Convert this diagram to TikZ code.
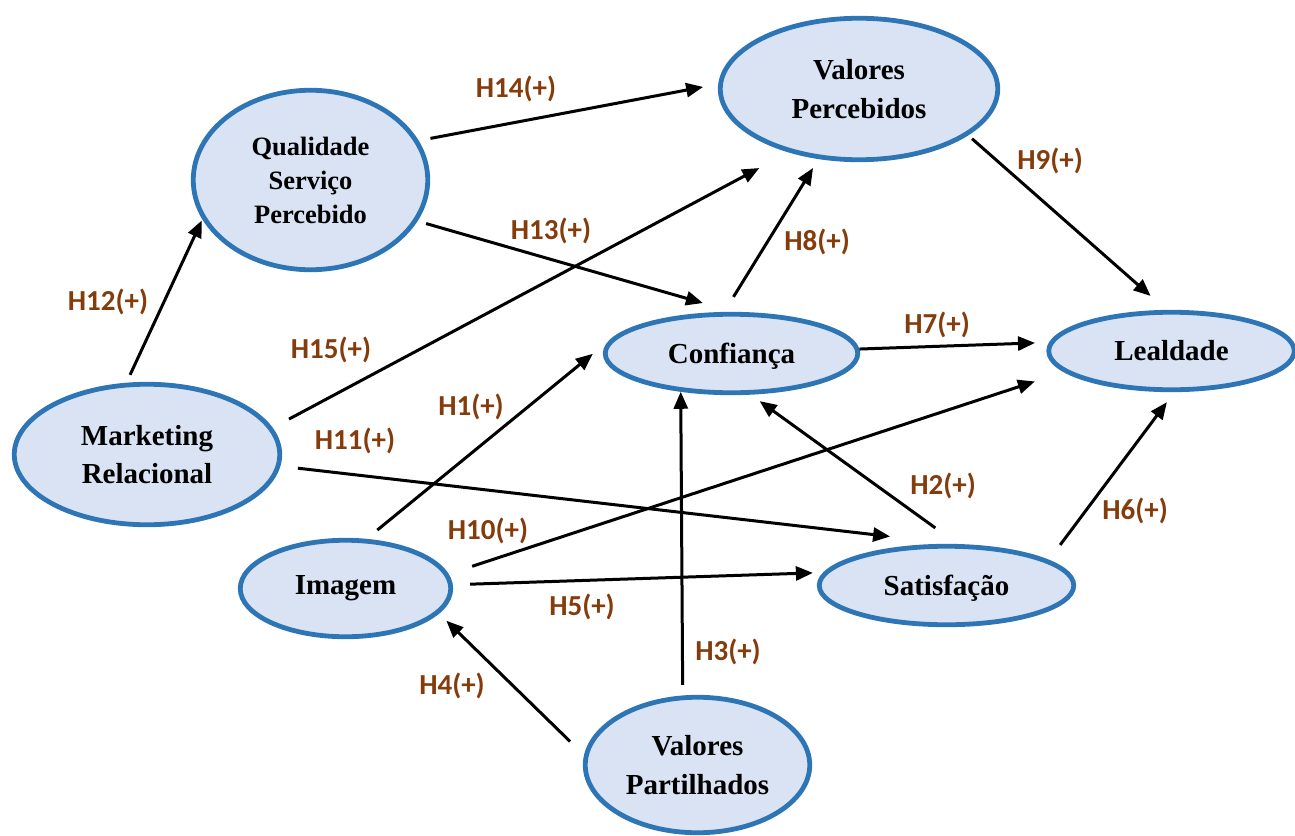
\documentclass[tikz,border=0pt]{standalone}
\usepackage{fontspec}
\setmainfont{Liberation Serif}
\newfontfamily\labelfont{Carlito}
\usetikzlibrary{arrows.meta,shapes.geometric}
\definecolor{ovalfill}{HTML}{DAE3F3}
\definecolor{ovaldraw}{HTML}{2E75B6}
\definecolor{hypbrown}{HTML}{843C0C}

\begin{document}
\begin{tikzpicture}[x=1pt,y=-1pt,
  construct/.style={ellipse, draw=ovaldraw, fill=ovalfill, line width=4.8pt,
    inner sep=0pt, align=center, font=\bfseries\fontsize{29}{38.5}\selectfont},
  flatbase/.style={text depth=0pt},
  link/.style={line width=3pt, -{Triangle[length=17pt,width=14pt]}},
  hyp/.style={text=hypbrown, inner sep=0pt,
    font=\labelfont\bfseries\fontsize{29}{31}\selectfont}
]
\useasboundingbox (0,0) rectangle (1295,835);

% constructs
\node[construct, minimum width=234.5pt, minimum height=179.5pt,
      font=\bfseries\fontsize{26.5}{34}\selectfont]
      (qual) at (310.5,180) {Qualidade\\Serviço\\Percebido};
\node[construct, minimum width=277.5pt, minimum height=141.5pt]
      (vperc) at (859,89) {Valores\\Percebidos};
\node[construct, flatbase, minimum width=252.5pt, minimum height=78.5pt]
      (conf) at (731.5,353.5) {Confiança};
\node[construct, minimum width=245.5pt, minimum height=77.5pt]
      (leal) at (1171.5,351) {Lealdade};
\node[construct, minimum width=265.5pt, minimum height=140.5pt]
      (mkt) at (147,454.5) {Marketing\\Relacional};
\node[construct, minimum width=210.5pt, minimum height=96.5pt]
      (img) at (345.5,588.5) {Imagem};
\node[construct, flatbase, minimum width=254.5pt, minimum height=78.5pt]
      (sat) at (946.5,585.5) {Satisfação};
\node[construct, minimum width=224.5pt, minimum height=135.5pt]
      (vpart) at (697.5,765) {Valores\\Partilhados};

% hypotheses
\draw[link, shorten <=8.7pt,  shorten >=1.2pt]  (mkt.106.2)  -- (qual.200.9);
\draw[link, shorten <=12pt,   shorten >=15.3pt] (qual.20.3)  -- (vperc.178.9);
\draw[link, shorten <=8.9pt,  shorten >=32pt]   (qual.339.9) -- (conf.87.1);
\draw[link, shorten <=18.5pt, shorten >=33.2pt] (mkt.12.6)   -- (vperc.222.3);
\draw[link, shorten <=17.7pt, shorten >=10.4pt] (conf.100.8) -- (vperc.240.6);
\draw[link, shorten <=5.1pt,  shorten >=21.1pt] (vperc.337.5) -- (leal.97.3);
\draw[link, shorten >=14.1pt]                   (conf.2.95)  -- (leal.176.1);
\draw[link, shorten <=13.9pt, shorten >=26.7pt] (img.67.2)   -- (conf.172);
\draw[link, shorten <=17.6pt, shorten >=64.9pt] (mkt.355.5)  -- (sat.79.1);
\draw[link, shorten <=24.7pt, shorten >=30.4pt] (img.8.85)   -- (leal.191);
\draw[link, shorten <=27.5pt, shorten >=11pt]   (sat.75.5)   -- (conf.295.5);
\draw[link, shorten <=18.8pt, shorten >=12.5pt] (sat.14)     -- (leal.274.9);
\draw[link, shorten <=17.3pt, shorten >=10.4pt] (img.2.1)    -- (sat.174.05);
\draw[link, shorten <=10.6pt]                   (vpart.102.6) -- (conf.217.7);
\draw[link, shorten <=19.5pt, shorten >=10.2pt] (vpart.175.9) -- (img.345.6);

% hypothesis labels
\node[hyp] (l12) at (108,302)  {H12(+)};
\node[hyp] (l14) at (516,89)   {H14(+)};
\node[hyp] (l13) at (551,231)  {H13(+)};
\node[hyp] (l15) at (331,350)  {H15(+)};
\node[hyp] (l8)  at (817,242)  {H8(+)};
\node[hyp] (l9)  at (1050,161) {H9(+)};
\node[hyp] (l7)  at (937,325)  {H7(+)};
\node[hyp] (l1)  at (471,407)  {H1(+)};
\node[hyp] (l11) at (355,441)  {H11(+)};
\node[hyp] (l10) at (488,531)  {H10(+)};
\node[hyp] (l2)  at (943,486)  {H2(+)};
\node[hyp] (l6)  at (1135,511) {H6(+)};
\node[hyp] (l5)  at (582,607)  {H5(+)};
\node[hyp] (l3)  at (728,652)  {H3(+)};
\node[hyp] (l4)  at (452,686)  {H4(+)};
\end{tikzpicture}
\end{document}
